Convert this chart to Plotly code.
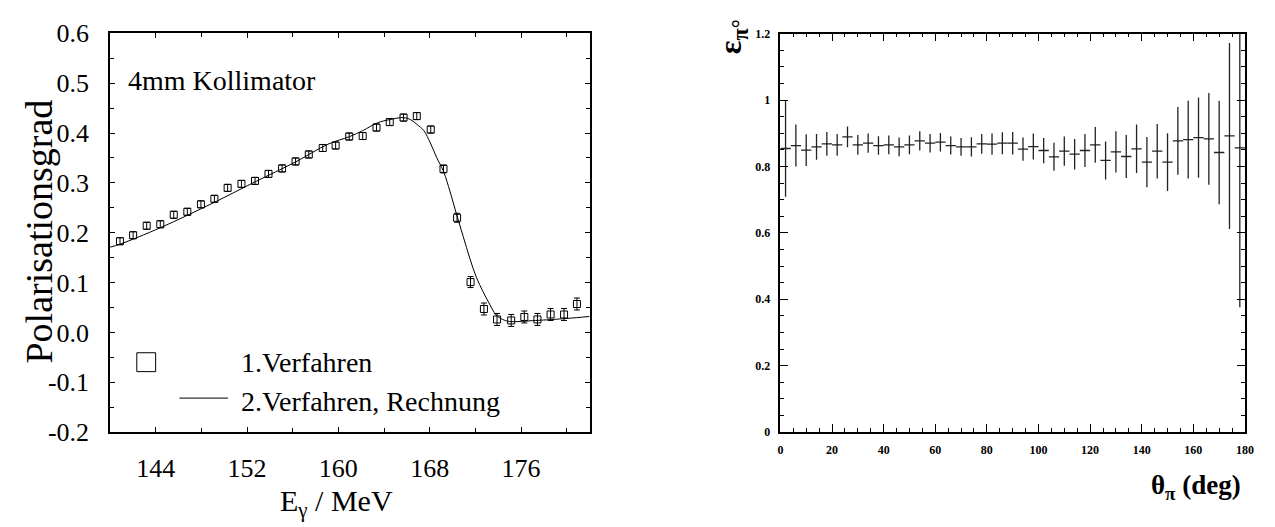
import plotly.graph_objects as go

W, H = 1275, 527

# ---------------- left panel data ----------------
e_meas = [140.87, 142.02, 143.21, 144.40, 145.58, 146.77, 147.96, 149.14, 150.30, 151.51,
          152.70, 153.88, 155.07, 156.25, 157.41, 158.63, 159.76, 160.95, 162.13, 163.34,
          164.50, 165.71, 166.87, 168.09, 169.21, 170.40, 171.58, 172.75, 173.90, 175.14,
          176.29, 177.44, 178.59, 179.77, 180.90]
p_meas = [0.183, 0.195, 0.214, 0.217, 0.236, 0.242, 0.257, 0.268, 0.290, 0.298,
          0.304, 0.318, 0.329, 0.343, 0.357, 0.370, 0.375, 0.393, 0.394, 0.411,
          0.422, 0.431, 0.434, 0.407, 0.328, 0.230, 0.101, 0.047, 0.026, 0.024,
          0.031, 0.026, 0.036, 0.036, 0.057]
p_err = [0.007, 0.007, 0.007, 0.007, 0.007, 0.007, 0.007, 0.007, 0.007, 0.007,
         0.007, 0.007, 0.007, 0.007, 0.007, 0.007, 0.007, 0.007, 0.007, 0.007,
         0.007, 0.007, 0.007, 0.007, 0.008, 0.009, 0.011, 0.012, 0.012, 0.012,
         0.012, 0.012, 0.012, 0.012, 0.012]

e_calc = [140.0, 140.87, 144.40, 149.14, 152.70, 156.25, 159.09, 160.97, 162.15, 163.43,
          164.50, 165.71, 166.32, 166.90, 167.48, 168.06, 168.61, 169.21, 169.79, 170.35,
          170.93, 171.51, 172.08, 172.67, 173.24, 173.82, 174.40, 174.98, 177.29, 180.0, 182.0]
p_calc = [0.171, 0.177, 0.210, 0.261, 0.302, 0.342, 0.3776, 0.3928, 0.405, 0.4205,
          0.427, 0.431, 0.427, 0.417, 0.405, 0.380, 0.351, 0.323, 0.282, 0.237,
          0.193, 0.149, 0.111, 0.082, 0.057, 0.035, 0.026, 0.022, 0.024, 0.028, 0.032]

left_xticks = [144, 152, 160, 168, 176]
left_yticks = [-0.2, -0.1, 0.0, 0.1, 0.2, 0.3, 0.4, 0.5, 0.6]
left_yticklabels = ["-0.2", "-0.1", "0.0", "0.1", "0.2", "0.3", "0.4", "0.5", "0.6"]

# ---------------- right panel data ----------------
theta = [2, 6, 10, 14, 18, 22, 26, 30, 34, 38, 42, 46, 50, 54, 58, 62, 66, 70, 74, 78,
         82, 86, 90, 94, 98, 102, 106, 110, 114, 118, 122, 126, 130, 134, 138, 142, 146,
         150, 154, 158, 162, 166, 170, 174, 178]
eff = [0.854, 0.863, 0.849, 0.859, 0.868, 0.865, 0.889, 0.865, 0.870, 0.863,
       0.865, 0.859, 0.865, 0.877, 0.870, 0.873, 0.863, 0.859, 0.859, 0.868,
       0.867, 0.870, 0.870, 0.852, 0.860, 0.848, 0.829, 0.846, 0.837, 0.848,
       0.865, 0.818, 0.844, 0.830, 0.853, 0.813, 0.846, 0.813, 0.877, 0.881,
       0.887, 0.883, 0.842, 0.892, 0.856]
eff_err = [0.145, 0.063, 0.048, 0.039, 0.036, 0.033, 0.031, 0.030, 0.029, 0.028,
           0.028, 0.028, 0.028, 0.029, 0.028, 0.028, 0.027, 0.027, 0.029, 0.030,
           0.032, 0.033, 0.034, 0.035, 0.039, 0.038, 0.042, 0.044, 0.046, 0.050,
           0.054, 0.057, 0.062, 0.065, 0.073, 0.076, 0.082, 0.087, 0.102, 0.117,
           0.121, 0.138, 0.156, 0.280, 0.480]
theta_halfwidth = 2

SERIF = "Times New Roman, Liberation Serif, serif"


def px(x):
    return x / W


def py(y):
    return 1 - y / H


fig = go.Figure()

fig.add_trace(go.Scatter(
    x=e_calc, y=p_calc, mode="lines", line=dict(color="black", width=1, shape="spline"),
    xaxis="x", yaxis="y", showlegend=False, hoverinfo="skip"))

fig.add_trace(go.Scatter(
    x=e_meas, y=p_meas, mode="markers",
    marker=dict(symbol="square-open", size=7, color="black", line=dict(width=1, color="black")),
    error_y=dict(type="data", array=p_err, visible=True, color="black", thickness=1, width=3),
    xaxis="x", yaxis="y", showlegend=False))

fig.add_trace(go.Scatter(
    x=theta, y=eff, mode="markers",
    marker=dict(size=1, color="#222222"),
    error_y=dict(type="data", array=eff_err, visible=True, color="#222222", thickness=1.3, width=0),
    error_x=dict(type="constant", value=theta_halfwidth, visible=True, color="#222222", thickness=1.3, width=0),
    xaxis="x2", yaxis="y2", showlegend=False, cliponaxis=True))

common_axis = dict(showline=True, linecolor="black", linewidth=1.5, mirror="allticks",
                   ticks="inside", tickcolor="black", showgrid=False, zeroline=False)

fig.update_layout(
    width=W, height=H, margin=dict(l=0, r=0, t=0, b=0),
    paper_bgcolor="white", plot_bgcolor="white", showlegend=False,
    font=dict(family=SERIF, color="black"),
    xaxis=dict(domain=[px(100), px(584)], range=[140, 182], tickvals=left_xticks,
               ticklen=5, tickwidth=1,
               minor=dict(tickvals=[140, 148, 156, 164, 172, 180], ticklen=4, ticks="inside",
                          tickcolor="black", tickwidth=1),
               tickfont=dict(family=SERIF, size=26, color="black"), ticklabelstandoff=12,
               anchor="y", **common_axis),
    yaxis=dict(domain=[1 - 434 / H, 1 - 12 / H], range=[-0.2, 0.6], tickvals=left_yticks,
               ticktext=left_yticklabels, ticklen=5, tickwidth=1,
               minor=dict(tickvals=[-0.15, -0.05, 0.05, 0.15, 0.25, 0.35, 0.45, 0.55],
                          ticklen=4, ticks="inside", tickcolor="black", tickwidth=1),
               tickfont=dict(family=SERIF, size=26, color="black"), ticklabelstandoff=14,
               anchor="x", **common_axis),
    xaxis2=dict(domain=[px(776.7), px(1245.7)], range=[0, 180], dtick=20, tick0=0,
                ticklen=8, tickwidth=1.3,
                minor=dict(dtick=5, ticklen=4, ticks="inside", tickcolor="black", tickwidth=1),
                tickfont=dict(family=SERIF, size=12, color="black", weight="bold"),
                ticklabelstandoff=6, anchor="y2", **common_axis),
    yaxis2=dict(domain=[1 - 434 / H, 1 - 12.3 / H], range=[0, 1.2], dtick=0.2, tick0=0,
                ticklen=8, tickwidth=1.3,
                minor=dict(dtick=0.05, ticklen=4, ticks="inside", tickcolor="black", tickwidth=1),
                tickfont=dict(family=SERIF, size=12, color="black", weight="bold"),
                ticklabelstandoff=6, anchor="x2", **common_axis),
)

ann = [
    dict(text="4mm Kollimator", x=px(116), y=py(62), xanchor="left", yanchor="middle",
         font=dict(family=SERIF, size=28, color="black")),
    dict(text="Polarisationsgrad", x=px(28), y=py(222), xanchor="center", yanchor="middle",
         textangle=-90, font=dict(family=SERIF, size=38, color="black")),
    dict(text="E<sub>γ</sub> / MeV", x=px(329), y=py(509), xanchor="center", yanchor="middle",
         font=dict(family=SERIF, size=30, color="black")),
    dict(text="1.Verfahren", x=px(230), y=py(360), xanchor="left", yanchor="middle",
         font=dict(family=SERIF, size=28, color="black")),
    dict(text="2.Verfahren, Rechnung", x=px(230), y=py(402), xanchor="left", yanchor="middle",
         font=dict(family=SERIF, size=28, color="black")),
    dict(text="<b>θ<sub>π</sub> (deg)</b>", x=px(1244), y=py(492), xanchor="right", yanchor="middle",
         font=dict(family=SERIF, size=27, color="black")),
    dict(text="<b>ε<sub>π°</sub></b>", x=px(728), y=py(16), xanchor="center", yanchor="middle",
         textangle=-90, font=dict(family=SERIF, size=32, color="black")),
]
for a in ann:
    a.update(xref="paper", yref="paper", showarrow=False)
fig.update_layout(annotations=ann)

fig.update_layout(shapes=[
    dict(type="rect", xref="paper", yref="paper", x0=px(127), x1=px(146), y0=py(370), y1=py(350),
         line=dict(color="black", width=1)),
    dict(type="line", xref="paper", yref="paper", x0=px(170), x1=px(219), y0=py(398), y1=py(398),
         line=dict(color="black", width=1)),
])

fig.write_html("out.html")
